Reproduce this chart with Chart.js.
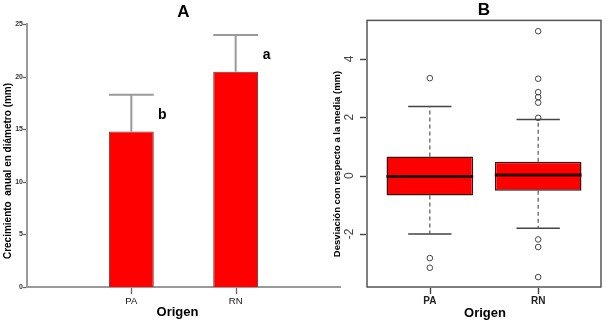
<!DOCTYPE html>
<html><head><meta charset="utf-8">
<script src="https://cdn.jsdelivr.net/npm/chart.js@4"></script>
<style>
html,body{margin:0;padding:0;background:#fff;}
#wrap{position:relative;width:606px;height:325px;overflow:hidden;}
#cA{position:absolute;left:0;top:0;}
#cB{position:absolute;left:300px;top:0;}
</style></head><body>
<div id="wrap">
<canvas id="cA" width="345" height="325"></canvas>
<canvas id="cB" width="306" height="325"></canvas>
</div>
<script>
// panel A: mean + error
const catsA=['PA','RN'];
const meanA=[14.8,20.5];
const upperA=[18.3,24.0];
const lettersA=['b','a'];
const yTicksA=[0,5,10,15,20,25];

// panel B: boxplot stats
const catsB=['PA','RN'];
const q1B=[-0.68,-0.52];
const medB=[-0.03,0.02];
const q3B=[0.65,0.47];
const whiskLoB=[-2.0,-1.81];
const whiskHiB=[2.37,1.92];
const outPA=[3.34,-2.83,-3.16];
const outRN=[4.95,3.32,2.86,2.69,2.50,1.98,-2.19,-2.45,-3.48];
const yTicksB=[-2,0,2,4];

const FF='"Liberation Sans", Arial, sans-serif';
Chart.defaults.font.family=FF;

// list of segments -> points with null gaps
function segs(list){
  const out=[];
  list.forEach((s,i)=>{
    if(i) out.push({x:s[0][0],y:null});
    out.push({x:s[0][0],y:s[0][1]},{x:s[1][0],y:s[1][1]});
  });
  return out;
}
function lineDs(data,color,width,order,dash){
  return {type:'line',data,borderColor:color,borderWidth:width,pointRadius:0,spanGaps:false,
    order,borderDash:dash||[],borderCapStyle:'butt',fill:false};
}
// tick marks drawn from the scales' own ticks
function tickMarks(c,xs,ys,xLen,yLen,color,w){
  const ctx=c.ctx, a=c.chartArea;
  ctx.save();
  ctx.setLineDash([]);
  ctx.strokeStyle=color;ctx.lineWidth=w;
  xs.ticks.forEach(t=>{
    const p=Math.round(xs.getPixelForValue(t.value))+0.5;
    ctx.beginPath();ctx.moveTo(p,a.bottom+1);ctx.lineTo(p,a.bottom+xLen);ctx.stroke();
  });
  ys.ticks.forEach(t=>{
    const p=Math.round(ys.getPixelForValue(t.value))+0.5;
    ctx.beginPath();ctx.moveTo(a.left-yLen,p);ctx.lineTo(a.left-1,p);ctx.stroke();
  });
  ctx.restore();
}

const xA=catsA.map((_,i)=>i+1);
const capA=0.215;

new Chart(document.getElementById('cA'),{
  type:'bar',
  data:{datasets:[
    {type:'bar',data:xA.map((x,i)=>({x,y:meanA[i]})),backgroundColor:'#ff0000',
     borderColor:'#6b3a3a',borderWidth:1,barPercentage:0.43,categoryPercentage:1,order:1},
    lineDs(segs(xA.flatMap((x,i)=>[[[x,meanA[i]],[x,upperA[i]]],[[x-capA,upperA[i]],[x+capA,upperA[i]]]])),'#9a9a9a',2,2)
  ]},
  options:{
    responsive:false,animation:false,
    layout:{padding:{left:0,right:5,top:0,bottom:0}},
    plugins:{legend:{display:false},tooltip:{enabled:false},
      title:{display:true,text:'A',fullSize:false,color:'#000',font:{size:17,weight:'bold'},padding:{top:2,bottom:2}}},
    scales:{
      x:{type:'linear',min:0,max:3,offset:false,
        afterBuildTicks:s=>{s.ticks=xA.map(v=>({value:v}));},
        afterFit:s=>{s.height=38;},
        ticks:{callback:v=>catsA[v-1],color:'#111',font:{size:9.5},padding:4,autoSkip:false,maxRotation:0},
        grid:{display:false,drawTicks:true,tickLength:5},
        border:{color:'#9a9a9a',width:2}},
      y:{min:0,max:25,
        afterBuildTicks:s=>{s.ticks=yTicksA.map(v=>({value:v}));},
        afterFit:s=>{s.width=27;},
        ticks:{color:'#333',font:{size:7,weight:'bold'},padding:1},
        grid:{display:false,drawTicks:true,tickLength:3},
        border:{color:'#9a9a9a',width:2}}
    }
  },
  plugins:[{id:'textA',afterDraw(c){
    const {ctx,chartArea:a,scales:{x,y}}=c;
    tickMarks(c,x,y,7,4,'#666',1.3);
    ctx.save();
    ctx.fillStyle='#000';
    ctx.font='bold 14px '+FF;
    ctx.textAlign='center';ctx.textBaseline='alphabetic';
    lettersA.forEach((t,i)=>ctx.fillText(t,x.getPixelForValue(xA[i])+31,y.getPixelForValue(upperA[i]-2.3)));
    ctx.font='bold 13px '+FF;ctx.textBaseline='middle';
    ctx.fillText('Origen',(a.left+a.right)/2-6,312);
    ctx.translate(8.5,171);ctx.rotate(-Math.PI/2);
    ctx.font='bold 10px '+FF;
    ctx.fillText('Crecimiento  anual en diámetro (mm)',0,0);
    ctx.restore();
  }}]
});

const xB=catsB.map((_,i)=>i+1);
const boxHalf=0.4, capHalf=0.2;

new Chart(document.getElementById('cB'),{
  type:'bar',
  data:{datasets:[
    {type:'bar',data:xB.map((x,i)=>({x,y:[q1B[i],q3B[i]]})),backgroundColor:'#ff0000',
     borderColor:'#3a1515',borderWidth:1.5,borderSkipped:false,barPercentage:0.8,categoryPercentage:1,order:2},
    lineDs(segs(xB.map((x,i)=>[[x-boxHalf,medB[i]],[x+boxHalf,medB[i]]])),'#2a0000',3,0),
    lineDs(segs(xB.flatMap((x,i)=>[[[x,q3B[i]],[x,whiskHiB[i]]],[[x,q1B[i]],[x,whiskLoB[i]]]])),'#555',1.2,3,[4,3]),
    lineDs(segs(xB.flatMap((x,i)=>[[[x-capHalf,whiskHiB[i]],[x+capHalf,whiskHiB[i]]],[[x-capHalf,whiskLoB[i]],[x+capHalf,whiskLoB[i]]]])),'#444',1.5,3),
    {type:'line',showLine:false,order:1,
     data:outPA.map(v=>({x:xB[0],y:v})).concat(outRN.map(v=>({x:xB[1],y:v}))),
     pointRadius:2.8,pointBackgroundColor:'rgba(0,0,0,0)',pointBorderColor:'#444',pointBorderWidth:1}
  ]},
  options:{
    responsive:false,animation:false,
    layout:{padding:{left:0,right:4,top:0,bottom:0}},
    plugins:{legend:{display:false},tooltip:{enabled:false},
      title:{display:true,text:'B',fullSize:false,color:'#000',font:{size:17,weight:'bold'},padding:{top:0,bottom:0}}},
    scales:{
      x:{type:'linear',min:0.42,max:2.58,offset:false,
        afterBuildTicks:s=>{s.ticks=xB.map(v=>({value:v}));},
        afterFit:s=>{s.height=38;},
        ticks:{callback:v=>catsB[v-1],color:'#222',font:{size:10,weight:'bold'},padding:2,autoSkip:false,maxRotation:0},
        grid:{display:false,drawTicks:true,tickLength:6},
        border:{display:false}},
      y:{min:-3.82,max:5.32,
        afterBuildTicks:s=>{s.ticks=yTicksB.map(v=>({value:v}));},
        afterFit:s=>{s.width=67;},
        ticks:{display:false},
        grid:{display:false},
        border:{display:false}}
    }
  },
  plugins:[{id:'textB',afterDraw(c){
    const {ctx,chartArea:a,scales:{x,y}}=c;
    tickMarks(c,x,y,7,7,'#444',1.4);
    ctx.save();
    ctx.strokeStyle='#555';ctx.lineWidth=1.5;
    ctx.strokeRect(a.left,a.top,a.right-a.left,a.bottom-a.top);
    ctx.fillStyle='#444';ctx.font='12px '+FF;
    ctx.textAlign='center';ctx.textBaseline='middle';
    yTicksB.forEach(v=>{
      ctx.save();ctx.translate(50,y.getPixelForValue(v));ctx.rotate(-Math.PI/2);
      ctx.fillText(String(v),0,0);ctx.restore();
    });
    ctx.fillStyle='#000';
    ctx.font='bold 13px '+FF;
    ctx.fillText('Origen',(a.left+a.right)/2+1,313);
    ctx.translate(37,164);ctx.rotate(-Math.PI/2);
    ctx.font='bold 9.5px '+FF;
    ctx.fillText('Desviación con respecto a la media (mm)',0,0);
    ctx.restore();
  }}]
});
</script>
</body></html>
